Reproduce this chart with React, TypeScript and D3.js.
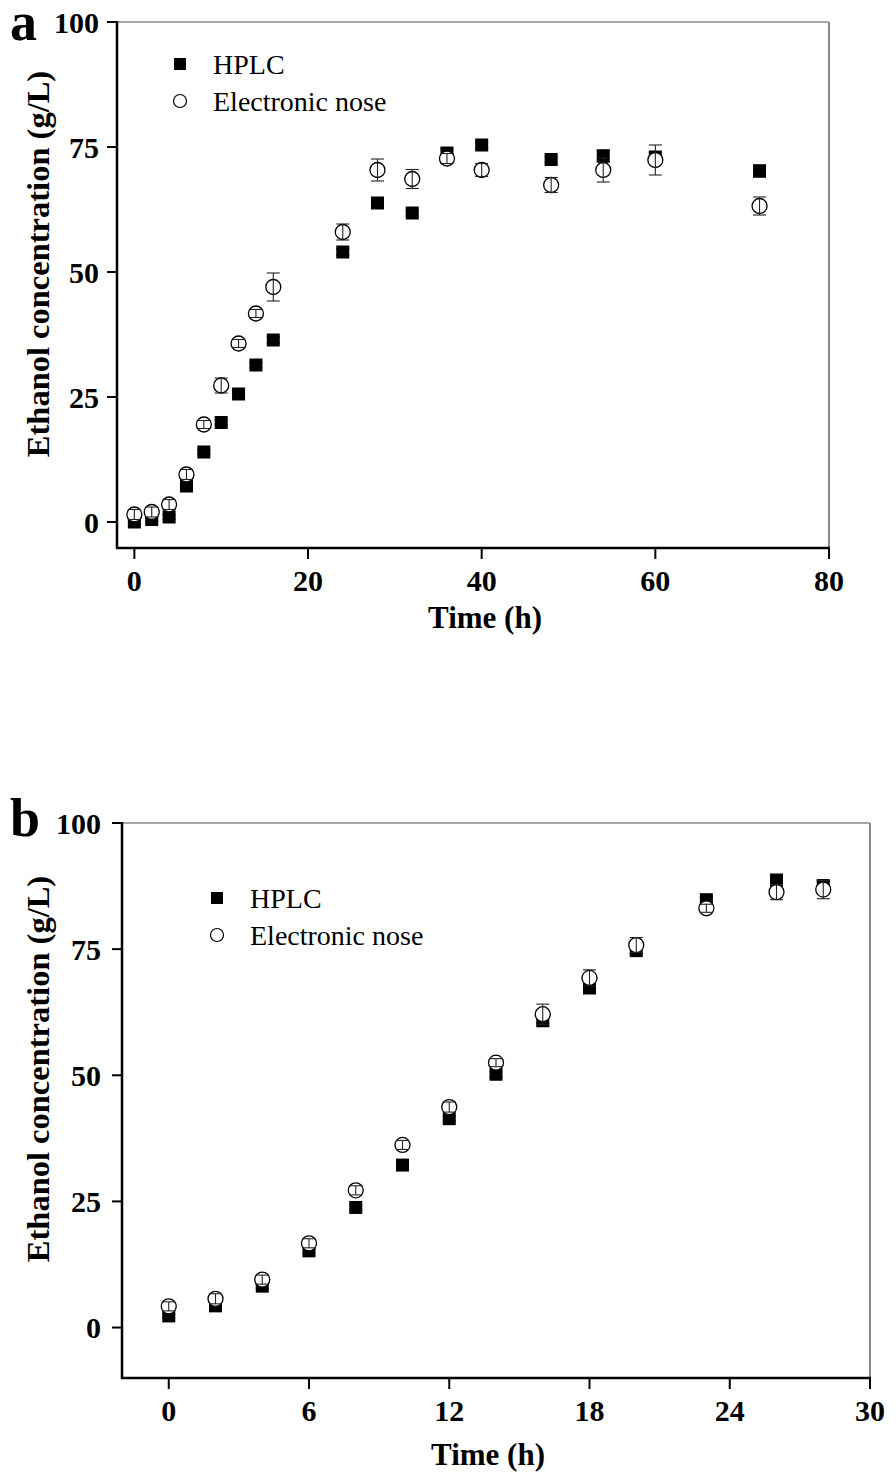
import React from "react";
import * as d3 from "d3";

// Panel a data
const timeA = [0, 2, 4, 6, 8, 10, 12, 14, 16, 24, 28, 32, 36, 40, 48, 54, 60, 72];
const hplcA = [0, 0.5, 1, 7.2, 14, 19.9, 25.6, 31.4, 36.4, 54, 63.8, 61.8, 73.8, 75.4, 72.5, 73.2, 73, 70.2];
const hplcErrA = [0.4, 0.4, 0.4, 0.5, 0.5, 0.5, 0.5, 0.5, 0.6, 0.6, 0.6, 0.6, 0.8, 0.6, 0.6, 1.2, 0.8, 1.2];
const noseA = [1.5, 2, 3.5, 9.5, 19.5, 27.3, 35.7, 41.7, 47, 58, 70.4, 68.6, 72.7, 70.4, 67.4, 70.4, 72.4, 63.2];
const noseErrA = [1, 1, 1, 1, 0.8, 1.5, 0.8, 0.8, 2.8, 1.6, 2.2, 1.9, 1, 1.3, 1.5, 2.4, 3, 1.8];

// Panel b data
const timeB = [0, 2, 4, 6, 8, 10, 12, 14, 16, 18, 20, 23, 26, 28];
const hplcB = [2.3, 4.3, 8.2, 15.2, 23.8, 32.2, 41.4, 50.2, 60.8, 67.3, 74.7, 84.8, 88.7, 87.6];
const hplcErrB = [0.4, 0.4, 0.4, 0.5, 0.5, 0.5, 0.5, 0.5, 0.6, 0.6, 0.6, 0.6, 0.8, 0.8];
const noseB = [4.2, 5.7, 9.5, 16.7, 27.2, 36.2, 43.7, 52.5, 62.1, 69.3, 75.8, 83.1, 86.3, 86.8];
const noseErrB = [0.9, 1, 0.9, 0.9, 0.9, 0.9, 1, 0.8, 2, 1.6, 1.5, 0.8, 1.5, 1.8];

const xTicksA = [0, 20, 40, 60, 80];
const xTicksB = [0, 6, 12, 18, 24, 30];
const yTicks = [0, 25, 50, 75, 100];
const seriesNames = ["HPLC", "Electronic nose"];

const SERIF = "'Liberation Serif', 'Times New Roman', serif";

type PanelProps = {
  letter: string;
  time: number[];
  hplc: number[];
  hplcErr: number[];
  nose: number[];
  noseErr: number[];
  xDomain: [number, number];
  yDomain: [number, number];
  left: number;
  right: number;
  top: number;
  bottom: number;
  xTicks: number[];
  legendX: number;
  legendY: number;
  letterY: number;
  yTitleY: number;
  yLabelGap: number;
  xTitleX: number;
  xTitleY: number;
};

function Panel(p: PanelProps) {
  const x = d3.scaleLinear().domain(p.xDomain).range([p.left, p.right]);
  const y = d3.scaleLinear().domain(p.yDomain).range([p.bottom, p.top]);
  const sq = 13;
  const r = 7.5;
  const cap = 6.5;
  const tickLen = 10;
  return (
    <g>
      {/* frame */}
      <line x1={p.left} x2={p.right} y1={p.top} y2={p.top} stroke="#8a8a8a" strokeWidth={1.5} />
      <line x1={p.right} x2={p.right} y1={p.top} y2={p.bottom} stroke="#8a8a8a" strokeWidth={2} />
      <line x1={p.left} x2={p.left} y1={p.top - 1} y2={p.bottom + 1} stroke="#000" strokeWidth={2.5} />
      <line x1={p.left - 1} x2={p.right + 1} y1={p.bottom} y2={p.bottom} stroke="#000" strokeWidth={2.5} />
      {/* y ticks */}
      {yTicks.map((t) => (
        <g key={"y" + t}>
          <line x1={p.left - tickLen} x2={p.left} y1={y(t)} y2={y(t)} stroke="#000" strokeWidth={2} />
          <text
            x={p.left - p.yLabelGap}
            y={y(t)}
            dy="0.35em"
            textAnchor="end"
            fontFamily={SERIF}
            fontWeight="bold"
            fontSize={30}
          >
            {t}
          </text>
        </g>
      ))}
      {/* x ticks */}
      {p.xTicks.map((t) => (
        <g key={"x" + t}>
          <line x1={x(t)} x2={x(t)} y1={p.bottom} y2={p.bottom + tickLen + 1} stroke="#000" strokeWidth={2} />
          <text x={x(t)} y={p.bottom + 43} textAnchor="middle" fontFamily={SERIF} fontWeight="bold" fontSize={30}>
            {t}
          </text>
        </g>
      ))}
      {/* axis titles */}
      <text
        x={p.xTitleX}
        y={p.xTitleY}
        textAnchor="middle"
        fontFamily={SERIF}
        fontWeight="bold"
        fontSize={31}
      >
        Time (h)
      </text>
      <text
        transform={`translate(${49},${p.yTitleY}) rotate(-90)`}
        textAnchor="middle"
        fontFamily={SERIF}
        fontWeight="bold"
        fontSize={32.5}
      >
        Ethanol concentration (g/L)
      </text>
      {/* panel letter */}
      <text x={10} y={p.letterY} fontFamily={SERIF} fontWeight="bold" fontSize={54}>
        {p.letter}
      </text>
      {/* legend */}
      <rect x={p.legendX - 6} y={p.legendY - 6} width={12} height={12} fill="#000" />
      <text x={p.legendX + 33} y={p.legendY} dy="0.35em" fontFamily={SERIF} fontSize={28}>
        {seriesNames[0]}
      </text>
      <circle cx={p.legendX} cy={p.legendY + 37} r={6.5} fill="#fff" stroke="#000" strokeWidth={1.2} />
      <text x={p.legendX + 33} y={p.legendY + 37} dy="0.35em" fontFamily={SERIF} fontSize={28}>
        {seriesNames[1]}
      </text>
      {/* HPLC error bars */}
      {p.time.map((t, i) => (
        <g key={"he" + i} stroke="#000" strokeWidth={1.2}>
          <line x1={x(t)} x2={x(t)} y1={y(p.hplc[i] - p.hplcErr[i])} y2={y(p.hplc[i] + p.hplcErr[i])} />
          <line x1={x(t) - cap} x2={x(t) + cap} y1={y(p.hplc[i] + p.hplcErr[i])} y2={y(p.hplc[i] + p.hplcErr[i])} />
          <line x1={x(t) - cap} x2={x(t) + cap} y1={y(p.hplc[i] - p.hplcErr[i])} y2={y(p.hplc[i] - p.hplcErr[i])} />
        </g>
      ))}
      {/* HPLC squares */}
      {p.time.map((t, i) => (
        <rect key={"h" + i} x={x(t) - sq / 2} y={y(p.hplc[i]) - sq / 2} width={sq} height={sq} fill="#000" />
      ))}
      {/* nose circles */}
      {p.time.map((t, i) => (
        <circle key={"n" + i} cx={x(t)} cy={y(p.nose[i])} r={r} fill="#fff" stroke="#000" strokeWidth={1.3} />
      ))}
      {/* nose error bars */}
      {p.time.map((t, i) => (
        <g key={"ne" + i} stroke="#222" strokeWidth={1.1}>
          <line x1={x(t)} x2={x(t)} y1={y(p.nose[i] - p.noseErr[i])} y2={y(p.nose[i] + p.noseErr[i])} />
          <line x1={x(t) - cap} x2={x(t) + cap} y1={y(p.nose[i] + p.noseErr[i])} y2={y(p.nose[i] + p.noseErr[i])} />
          <line x1={x(t) - cap} x2={x(t) + cap} y1={y(p.nose[i] - p.noseErr[i])} y2={y(p.nose[i] - p.noseErr[i])} />
        </g>
      ))}
    </g>
  );
}

export default function App() {
  return (
    <svg
      width={896}
      height={1475}
      viewBox="0 0 896 1475"
      style={{ position: "absolute", left: 0, top: 0, background: "#fff" }}
    >
      <rect width={896} height={1475} fill="#fff" />
      <Panel
        letter="a"
        time={timeA}
        hplc={hplcA}
        hplcErr={hplcErrA}
        nose={noseA}
        noseErr={noseErrA}
        xDomain={[-2, 80]}
        yDomain={[-5.2, 100]}
        left={117}
        right={829}
        top={22}
        bottom={548}
        xTicks={xTicksA}
        legendX={180}
        legendY={64}
        letterY={40}
        yTitleY={264}
        yLabelGap={18}
        xTitleX={485}
        xTitleY={628}
      />
      <Panel
        letter="b"
        time={timeB}
        hplc={hplcB}
        hplcErr={hplcErrB}
        nose={noseB}
        noseErr={noseErrB}
        xDomain={[-2, 30]}
        yDomain={[-10, 100]}
        left={122}
        right={870}
        top={823}
        bottom={1378}
        xTicks={xTicksB}
        legendX={217}
        legendY={898}
        letterY={836}
        yTitleY={1069}
        yLabelGap={21}
        xTitleX={488}
        xTitleY={1465}
      />
    </svg>
  );
}
